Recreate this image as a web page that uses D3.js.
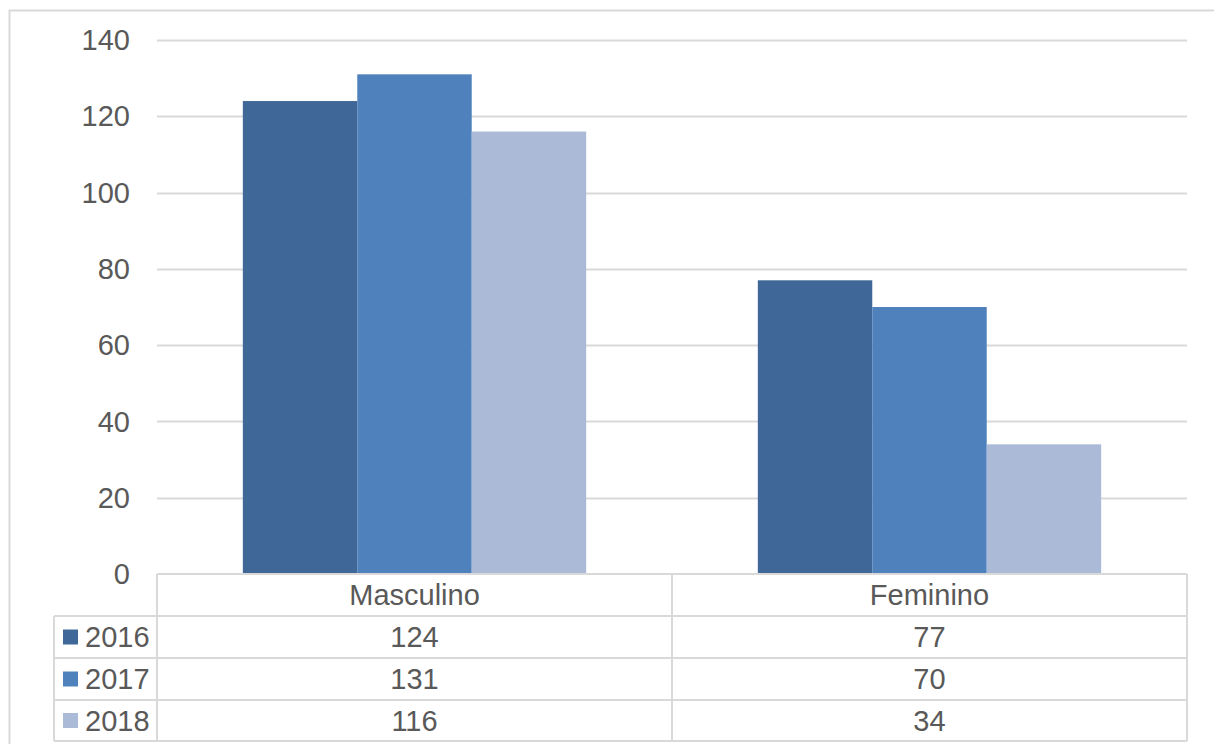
<!DOCTYPE html>
<html>
<head>
<meta charset="utf-8">
<script src="https://cdn.jsdelivr.net/npm/d3@7"></script>
<style>
  html, body { margin: 0; padding: 0; background: #fff; }
  svg { display: block; }
  text { font-family: "Liberation Sans", Arial, sans-serif; fill: #595959; }
</style>
</head>
<body>
<svg id="chart" width="1214" height="744"></svg>
<script>
// Data
const categories = ["Masculino", "Feminino"];
const seriesNames = ["2016", "2017", "2018"];
const values2016 = [124, 77];
const values2017 = [131, 70];
const values2018 = [116, 34];
const yTicks = [0, 20, 40, 60, 80, 100, 120, 140];

const seriesValues = [values2016, values2017, values2018];
const colors = ["#3F6899", "#4F81BD", "#AABAD7"];

const svg = d3.select("#chart");
const W = 1214, H = 744;

// Layout
const plot = { left: 157, right: 1187, top: 40, bottom: 574 };
const tableLeft = 54;
const rowEdges = [574, 616, 658, 700, 741];
const fontSize = 29;
const gridColor = "#D9D9D9";

// Outer chart frame
svg.append("rect")
  .attr("x", 9.5).attr("y", 10.5)
  .attr("width", W + 20).attr("height", H + 20)
  .attr("fill", "none").attr("stroke", gridColor).attr("stroke-width", 2);

// Scales
const y = d3.scaleLinear().domain([0, 140]).range([plot.bottom, plot.top]);
const x0 = d3.scaleBand().domain(categories).range([plot.left, plot.right]).paddingInner(0).paddingOuter(0);
// bar width = band / 4.5 (gap width 150%)
const x1 = d3.scaleBand().domain(seriesNames)
  .range([x0.bandwidth() * 0.75 / 4.5 * 1, x0.bandwidth() - x0.bandwidth() * 0.75 / 4.5])
  .padding(0);
x1.range([x0.bandwidth() / 4.5 * 0.75, x0.bandwidth() - x0.bandwidth() / 4.5 * 0.75]);

// Gridlines
svg.append("g").selectAll("line")
  .data(yTicks.filter(d => d !== 0))
  .join("line")
  .attr("x1", plot.left).attr("x2", plot.right)
  .attr("y1", d => Math.round(y(d)) + 0.5).attr("y2", d => Math.round(y(d)) + 0.5)
  .attr("stroke", gridColor).attr("stroke-width", 2);

// Y tick labels
svg.append("g").selectAll("text")
  .data(yTicks)
  .join("text")
  .attr("x", 130)
  .attr("y", d => y(d))
  .attr("dy", "0.35em")
  .attr("text-anchor", "end")
  .attr("font-size", fontSize)
  .text(d => d);

// Bars
const groups = svg.append("g").selectAll("g")
  .data(categories)
  .join("g")
  .attr("transform", c => `translate(${x0(c)},0)`);

groups.selectAll("rect")
  .data((c, ci) => seriesNames.map((s, si) => ({ s, si, v: seriesValues[si][ci] })))
  .join("rect")
  .attr("x", d => x1(d.s))
  .attr("width", x1.bandwidth())
  .attr("y", d => y(d.v))
  .attr("height", d => y(0) - y(d.v))
  .attr("fill", d => colors[d.si]);

// Data table
const tbl = svg.append("g").attr("stroke", gridColor).attr("stroke-width", 2).attr("fill", "none");
// horizontal lines
tbl.append("line").attr("x1", plot.left).attr("x2", plot.right).attr("y1", rowEdges[0]).attr("y2", rowEdges[0]);
rowEdges.slice(1).forEach(r => {
  tbl.append("line").attr("x1", tableLeft).attr("x2", plot.right).attr("y1", r).attr("y2", r);
});
// vertical lines
tbl.append("line").attr("x1", tableLeft).attr("x2", tableLeft).attr("y1", rowEdges[1]).attr("y2", rowEdges[4]);
[plot.left, x0("Feminino"), plot.right].forEach(xv => {
  tbl.append("line").attr("x1", xv).attr("x2", xv).attr("y1", rowEdges[0]).attr("y2", rowEdges[4]);
});

// Category headers
svg.append("g").selectAll("text")
  .data(categories)
  .join("text")
  .attr("x", c => x0(c) + x0.bandwidth() / 2)
  .attr("y", (rowEdges[0] + rowEdges[1]) / 2)
  .attr("dy", "0.35em")
  .attr("text-anchor", "middle")
  .attr("font-size", fontSize)
  .text(c => c);

// Rows: legend key + values
seriesNames.forEach((s, si) => {
  const cy = (rowEdges[si + 1] + rowEdges[si + 2]) / 2;
  svg.append("rect")
    .attr("x", 63).attr("y", cy - 7.5)
    .attr("width", 15).attr("height", 15)
    .attr("fill", colors[si]);
  svg.append("text")
    .attr("x", 85).attr("y", cy).attr("dy", "0.35em")
    .attr("font-size", fontSize)
    .text(s);
  categories.forEach((c, ci) => {
    svg.append("text")
      .attr("x", x0(c) + x0.bandwidth() / 2)
      .attr("y", cy).attr("dy", "0.35em")
      .attr("text-anchor", "middle")
      .attr("font-size", fontSize)
      .text(seriesValues[si][ci]);
  });
});
</script>
</body>
</html>
